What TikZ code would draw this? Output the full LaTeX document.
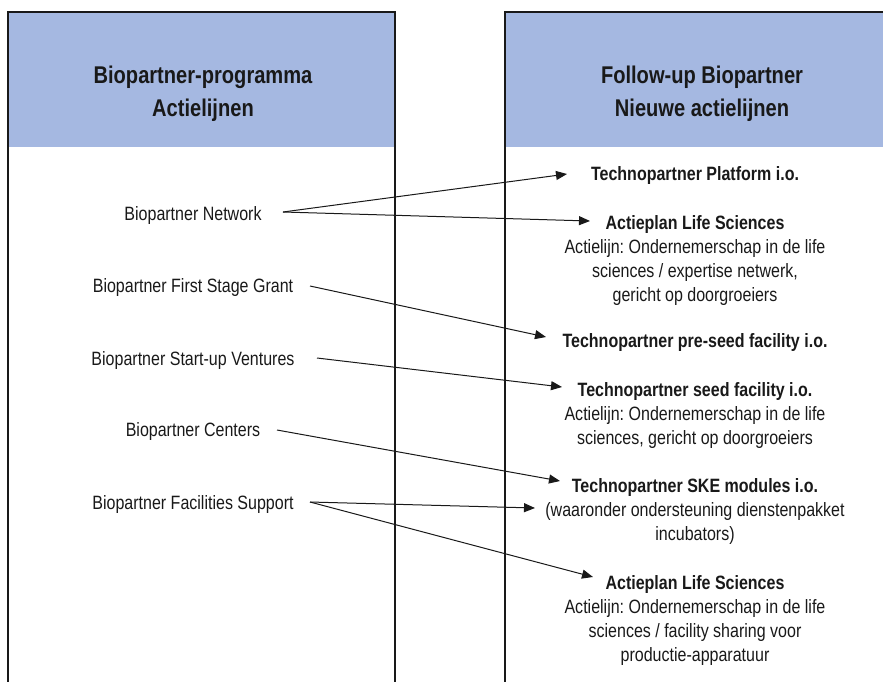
\documentclass[tikz,border=0pt]{standalone}
\usepackage{fontspec}
\setmainfont{Liberation Sans}[FakeStretch=0.83]
\usetikzlibrary{arrows.meta}
\definecolor{hdrblue}{RGB}{165,184,225}
\definecolor{ink}{RGB}{25,25,25}
\tikzset{
  hdr/.style={anchor=base, inner sep=0pt, font=\fontsize{24.2}{28}\selectfont\bfseries, text=ink},
  lbl/.style={anchor=base, inner sep=0pt, font=\fontsize{19.3}{24}\selectfont, text=ink},
  ttl/.style={anchor=base, inner sep=0pt, font=\fontsize{19.3}{24}\selectfont\bfseries, text=ink},
  arr/.style={line width=1pt, draw=ink, -{Triangle[length=11pt,width=9pt]}},
  frame/.style={line width=1.3pt, draw=ink}
}
\begin{document}
\frenchspacing
\begin{tikzpicture}[x=1pt,y=-1pt]
\useasboundingbox (0,0) rectangle (883,681);
% header fills
\fill[hdrblue] (8,12) rectangle (395,147);
\fill[hdrblue] (505,12) rectangle (890,147);
% frames
\draw[frame] (8,690) -- (8,12) -- (395,12) -- (395,690);
\draw[frame] (890,12) -- (505,12) -- (505,690);
% headers
\node[hdr] (h1a) at (203,83.5) {Biopartner-programma};
\node[hdr] (h1b) at (203,116.5) {Actielijnen};
\node[hdr] (h2a) at (702,83.5) {Follow-up Biopartner};
\node[hdr] (h2b) at (702,116.5) {Nieuwe actielijnen};
% left items
\node[lbl] (n1) at (193,220.5) {Biopartner Network};
\node[lbl] (n2) at (193,292.5) {Biopartner First Stage Grant};
\node[lbl] (n3) at (193,365) {Biopartner Start-up Ventures};
\node[lbl] (n4) at (193,436.5) {Biopartner Centers};
\node[lbl] (n5) at (193,509) {Biopartner Facilities Support};
% right items
\node[ttl] (r1) at (695,180) {Technopartner Platform i.o.};
\node[ttl] (r2) at (695,229) {Actieplan Life Sciences};
\node[lbl] (r2a) at (695,253) {Actielijn: Ondernemerschap in de life};
\node[lbl] (r2b) at (695,277) {sciences / expertise netwerk,};
\node[lbl] (r2c) at (695,301) {gericht op doorgroeiers};
\node[ttl] (r3) at (695,347.5) {Technopartner pre-seed facility i.o.};
\node[ttl] (r4) at (695,396.5) {Technopartner seed facility i.o.};
\node[lbl] (r4a) at (695,420.5) {Actielijn: Ondernemerschap in de life};
\node[lbl] (r4b) at (695,444.5) {sciences, gericht op doorgroeiers};
\node[ttl] (r5) at (695,492) {Technopartner SKE modules i.o.};
\node[lbl] (r5a) at (695,516) {(waaronder ondersteuning dienstenpakket};
\node[lbl] (r5b) at (695,540) {incubators)};
\node[ttl] (r6) at (695,589) {Actieplan Life Sciences};
\node[lbl] (r6a) at (695,613) {Actielijn: Ondernemerschap in de life};
\node[lbl] (r6b) at (695,637) {sciences / facility sharing voor};
\node[lbl] (r6c) at (695,661) {productie-apparatuur};
% connector end points
\coordinate (s1) at (283,212);
\coordinate (s2) at (310,286);
\coordinate (s3) at (317,358);
\coordinate (s4) at (277,430);
\coordinate (s5) at (310,502);
\coordinate (t1) at (567,174);
\coordinate (t2) at (590,221);
\coordinate (t3) at (546,337);
\coordinate (t4) at (562,387);
\coordinate (t5) at (560,481);
\coordinate (t5a) at (535,508);
\coordinate (t6) at (593,577);
% connectors
\draw[arr] (s1) -- (t1);
\draw[arr] (s1) -- (t2);
\draw[arr] (s2) -- (t3);
\draw[arr] (s3) -- (t4);
\draw[arr] (s4) -- (t5);
\draw[arr] (s5) -- (t5a);
\draw[arr] (s5) -- (t6);
\end{tikzpicture}
\end{document}
